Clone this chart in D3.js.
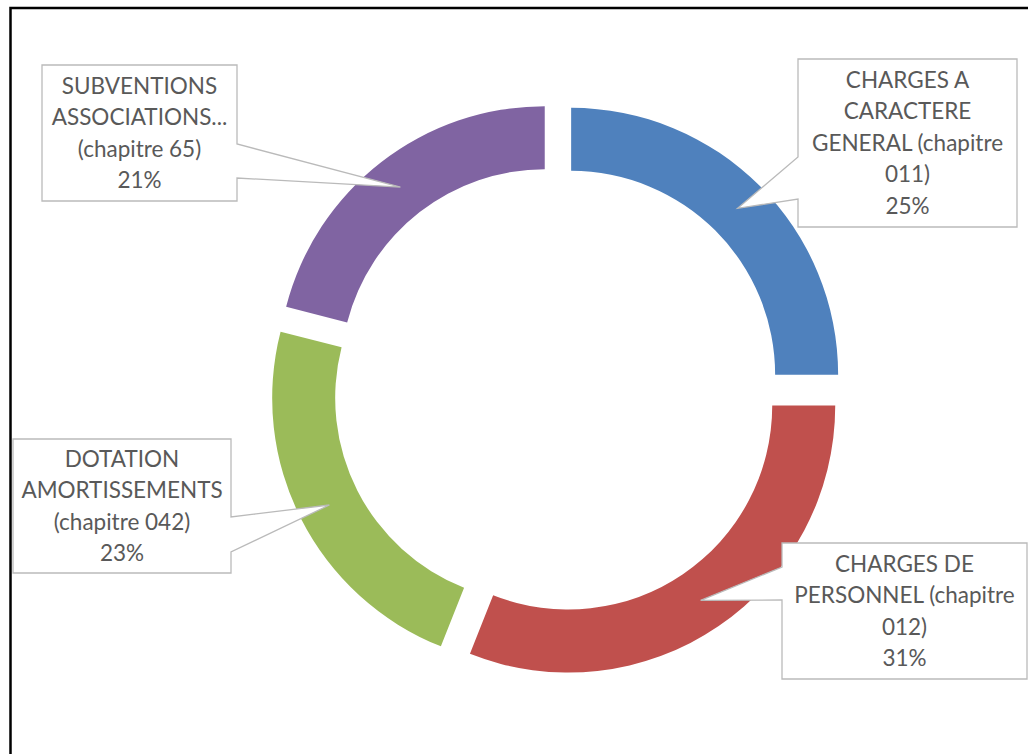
<!DOCTYPE html>
<html>
<head>
<meta charset="utf-8">
<script src="https://cdn.jsdelivr.net/npm/d3@7"></script>
<style>
  body { margin: 0; background: #fff; }
  svg { display: block; }
  .lbl { font-family: Lato, "Open Sans", sans-serif; font-size: 22.5px; fill: #595959; }
</style>
</head>
<body>
<div id="chart"></div>
<script>
// data
let categories = ["CHARGES A CARACTERE GENERAL (chapitre 011)", "CHARGES DE PERSONNEL (chapitre 012)",
    "DOTATION AMORTISSEMENTS (chapitre 042)", "SUBVENTIONS ASSOCIATIONS... (chapitre 65)"];
let labelLines = [
    ["CHARGES A", "CARACTERE", "GENERAL (chapitre", "011)"],
    ["CHARGES DE", "PERSONNEL (chapitre", "012)"],
    ["DOTATION", "AMORTISSEMENTS", "(chapitre 042)"],
    ["SUBVENTIONS", "ASSOCIATIONS...", "(chapitre 65)"]
];
let values = [25, 31, 23, 21];
let colors = ["#4f81bd", "#c0504d", "#9bbb59", "#8064a2"];

// callout boxes: box rect, side the pointer leaves from, the two points on that side
let callouts = [
    { x0: 798, y0: 59, x1: 1017, y1: 227, side: "left", a1: 157, a2: 199 },
    { x0: 782, y0: 543, x1: 1027, y1: 679, side: "left", a1: 567, a2: 600 },
    { x0: 13, y0: 439, x1: 231, y1: 573, side: "right", a1: 517, a2: 552 },
    { x0: 42, y0: 65, x1: 237, y1: 201, side: "right", a1: 144, a2: 178 }
];

const width = 1028, height = 754;
const cx = 557, cy = 389;
const outerR = 267, innerR = 204, explode = 20;
const lineH = 31.5;

const svg = d3.select("#chart").append("svg")
    .attr("width", width)
    .attr("height", height);

// outer frame (only top and left edges show)
svg.append("rect")
    .attr("x", 10.5).attr("y", 8)
    .attr("width", width + 20).attr("height", height + 20)
    .attr("fill", "none")
    .attr("stroke", "#000")
    .attr("stroke-width", 2.5);

const pie = d3.pie().sort(null).value(d => d);
const arcs = pie(values);

const arc = d3.arc().innerRadius(innerR).outerRadius(outerR);
const midArc = d3.arc().innerRadius((innerR + outerR) / 2).outerRadius((innerR + outerR) / 2);

function offset(d) {
    let a = (d.startAngle + d.endAngle) / 2;
    return [Math.sin(a) * explode, -Math.cos(a) * explode];
}

const g = svg.append("g").attr("transform", `translate(${cx},${cy})`);

g.selectAll("path.slice")
    .data(arcs)
    .join("path")
    .attr("class", "slice")
    .attr("transform", d => {
        let o = offset(d);
        return `translate(${o[0]},${o[1]})`;
    })
    .attr("d", arc)
    .attr("fill", (d, i) => colors[i]);

// callouts
arcs.forEach((d, i) => {
    let c = callouts[i];
    let o = offset(d);
    let m = midArc.centroid(d);
    let tx = cx + o[0] + m[0], ty = cy + o[1] + m[1];
    let p = d3.path();
    if (c.side === "right") {
        p.moveTo(c.x0, c.y0);
        p.lineTo(c.x1, c.y0);
        p.lineTo(c.x1, c.a1);
        p.lineTo(tx, ty);
        p.lineTo(c.x1, c.a2);
        p.lineTo(c.x1, c.y1);
        p.lineTo(c.x0, c.y1);
    } else {
        p.moveTo(c.x1, c.y0);
        p.lineTo(c.x1, c.y1);
        p.lineTo(c.x0, c.y1);
        p.lineTo(c.x0, c.a2);
        p.lineTo(tx, ty);
        p.lineTo(c.x0, c.a1);
        p.lineTo(c.x0, c.y0);
    }
    p.closePath();
    svg.append("path")
        .attr("d", p.toString())
        .attr("fill", "#fff")
        .attr("stroke", "#bababa")
        .attr("stroke-width", 1.3);

    let lines = labelLines[i].concat([values[i] + "%"]);
    let mx = (c.x0 + c.x1) / 2, my = (c.y0 + c.y1) / 2;
    let top = my - (lines.length - 1) * lineH / 2;
    let t = svg.append("text")
        .attr("class", "lbl")
        .attr("text-anchor", "middle");
    lines.forEach((l, j) => {
        t.append("tspan")
            .attr("x", mx)
            .attr("y", top + j * lineH)
            .attr("dy", "0.35em")
            .text(l);
    });
});
</script>
</body>
</html>
